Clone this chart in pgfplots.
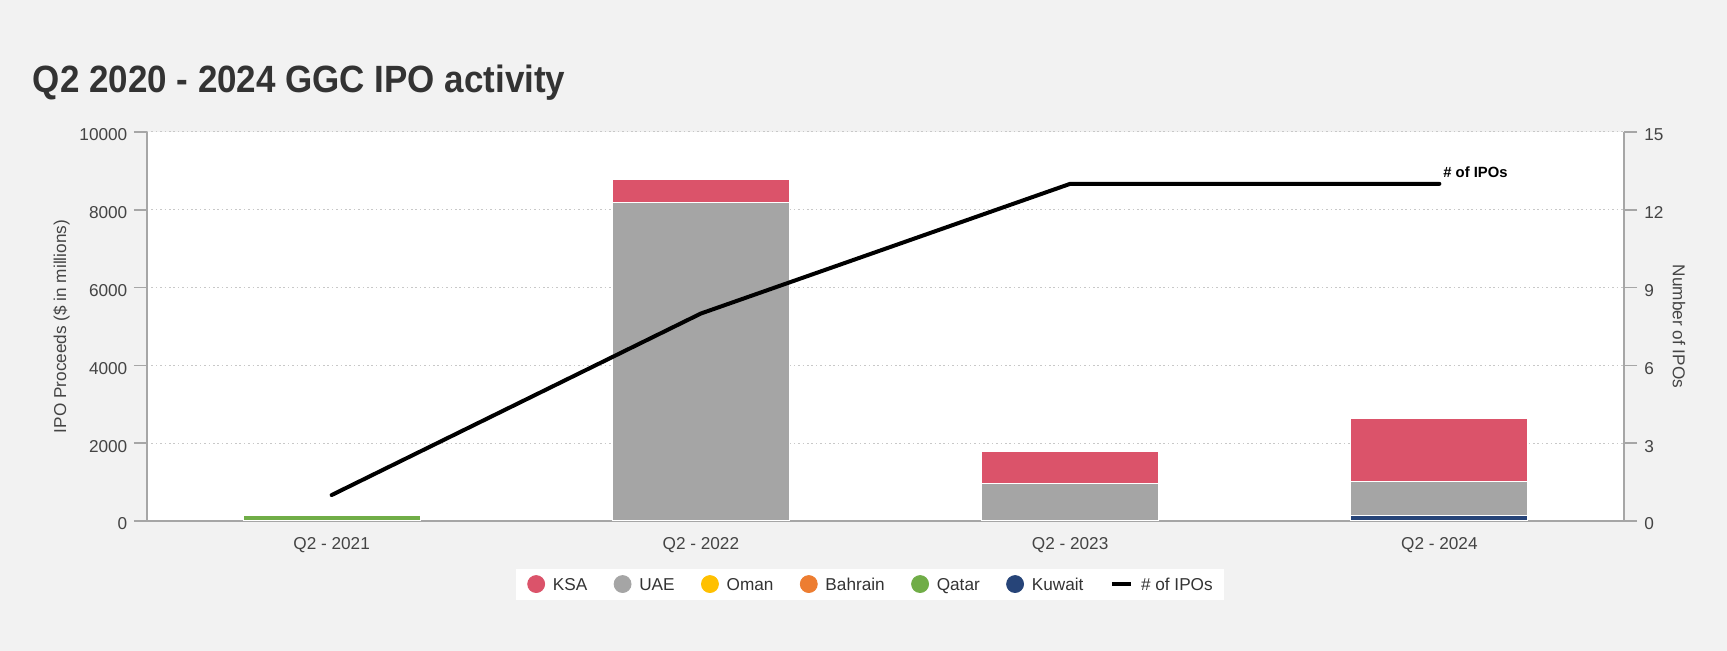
\documentclass[border=0pt]{standalone}
\usepackage{fontspec}
\setmainfont{Liberation Sans}
\usepackage{graphicx}
\usepackage{pgfplots}
\pgfplotsset{compat=1.18}
\definecolor{bg}{HTML}{F2F2F2}
\definecolor{titlec}{HTML}{333333}
\definecolor{labc}{HTML}{444444}
\definecolor{axisc}{HTML}{A6A6A6}
\definecolor{gridc}{HTML}{C8C8C8}
\definecolor{ksa}{HTML}{DB536A}
\definecolor{uae}{HTML}{A5A5A5}
\definecolor{oman}{HTML}{FFC000}
\definecolor{bahrain}{HTML}{ED7D31}
\definecolor{qatar}{HTML}{70AD47}
\definecolor{kuwait}{HTML}{264478}
\pgfplotsset{
  common/.style={
    at={(73.5pt,65pt)}, anchor=south west, scale only axis,
    width=738.5pt, height=194.5pt,
    xmin=-0.5, xmax=3.5,
    tick align=outside, major tick length=6.5pt,
    y tick style={draw=axisc, line width=0.75pt},
    axis line style={draw=axisc, line width=0.75pt},
    ticklabel style={font=\fontsize{8.6}{10}\selectfont, text=labc},
    /pgf/number format/assume math mode=true,
    /pgf/number format/1000 sep={},
    scaled y ticks=false,
    label style={font=\fontsize{8.6}{10}\selectfont, text=labc},
  }
}
\begin{document}
\begin{tikzpicture}
\fill[bg] (0pt,0pt) rectangle (863.5pt,325.5pt);
\node[anchor=base west, inner sep=0pt, text=titlec, font=\fontsize{19}{23}\selectfont\bfseries] at (16.25pt,279pt) {\scalebox{0.92}[1]{Q2 2020 - 2024 GGC IPO activity}};
\begin{axis}[common,
  ymin=0, ymax=10000,
  axis background/.style={fill=white},
  axis x line*=bottom, axis y line*=left,
  xtick={0,1,2,3}, xticklabels={Q2 - 2021, Q2 - 2022, Q2 - 2023, Q2 - 2024},
  x tick style={draw=none},
  xticklabel style={inner sep=0pt, yshift=-1.5pt},
  ytick={0,2000,4000,6000,8000,10000},
  yticklabel style={inner sep=0pt, xshift=-3.15pt, yshift=-1.5pt},
  ymajorgrids, major grid style={draw=gridc, line width=0.5pt, dash pattern=on 0.75pt off 1.45pt},
  ylabel={IPO Proceeds (\$ in millions)},
  ylabel style={at={(axis description cs:-0.0578,0.5)}, anchor=center},
  ybar stacked, bar width=88.5pt,
]
\addplot[fill=kuwait, draw=white, line width=0.5pt] coordinates {(0,0) (1,0) (2,0) (3,150)};
\addplot[fill=qatar, draw=white, line width=0.5pt] coordinates {(0,130) (1,0) (2,0) (3,0)};
\addplot[fill=uae, draw=white, line width=0.5pt] coordinates {(0,0) (1,8180) (2,960) (3,878)};
\addplot[fill=ksa, draw=white, line width=0.5pt] coordinates {(0,0) (1,600) (2,830) (3,1594)};
\end{axis}
\begin{axis}[common,
  ymin=0, ymax=15,
  axis x line=none, axis y line*=right,
  ytick={0,3,6,9,12,15},
  yticklabel style={inner sep=0pt, xshift=3.5pt, yshift=-1.5pt},
  ylabel={Number of IPOs},
  ylabel style={at={(axis description cs:1.0372,0.5)}, anchor=center, rotate=180},
  legend columns=7,
  legend style={at={(axis description cs:0.4895,-0.1632)}, anchor=center,
    draw=none, fill=white, font=\fontsize{8.6}{10}\selectfont, text=titlec,
    inner xsep=5.6pt, inner ysep=3pt,
    nodes={inner sep=0pt},
    /tikz/every odd column/.append style={column sep=3.9pt},
    /tikz/every even column/.append style={column sep=13.2pt}},
]
\addplot[black, line width=2pt, line cap=round, forget plot] coordinates {(0,1) (1,8) (2,13) (3,13)};
\node[anchor=base west, inner sep=0pt, font=\fontsize{7.4}{9}\selectfont\bfseries, xshift=1.8pt, yshift=3.35pt] at (axis cs:3,13) {\# of IPOs};
\addlegendimage{legend image code/.code={\fill[ksa] (4.25pt,1pt) circle (4.25pt);}}
\addlegendentry{KSA}
\addlegendimage{legend image code/.code={\fill[uae] (4.25pt,1pt) circle (4.25pt);}}
\addlegendentry{UAE}
\addlegendimage{legend image code/.code={\fill[oman] (4.25pt,1pt) circle (4.25pt);}}
\addlegendentry{Oman}
\addlegendimage{legend image code/.code={\fill[bahrain] (4.25pt,1pt) circle (4.25pt);}}
\addlegendentry{Bahrain}
\addlegendimage{legend image code/.code={\fill[qatar] (4.25pt,1pt) circle (4.25pt);}}
\addlegendentry{Qatar}
\addlegendimage{legend image code/.code={\fill[kuwait] (4.25pt,1pt) circle (4.25pt);}}
\addlegendentry{Kuwait}
\addlegendimage{legend image code/.code={\draw[black, line width=2pt] (0pt,1pt) -- (9.7pt,1pt);}}
\addlegendentry{\# of IPOs}
\end{axis}
\end{tikzpicture}
\end{document}
